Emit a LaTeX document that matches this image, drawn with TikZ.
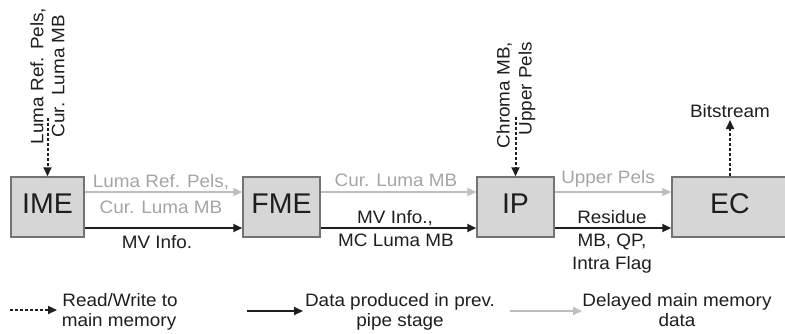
\documentclass[tikz,border=0pt]{standalone}
\usepackage{fontspec}
\setmainfont{Liberation Sans}
\newfontfamily\lblfont{Liberation Sans}[FakeStretch=1.05]
\usetikzlibrary{arrows.meta}
\definecolor{boxfill}{HTML}{D6D6D6}
\definecolor{boxline}{HTML}{737373}
\definecolor{delayline}{HTML}{BEBEBE}
\definecolor{delaytext}{HTML}{A5A5A5}
\definecolor{ink}{HTML}{1E1E1E}

\begin{document}
\begin{tikzpicture}[x=1pt,y=-1pt,
  stage/.style={draw=boxline, fill=boxfill, line width=1.5pt, minimum height=60pt,
    inner sep=0pt, font=\fontsize{28.5}{30}\selectfont, text=ink, text depth=6pt},
  lbl/.style={font=\lblfont\fontsize{18}{21}\selectfont, text=ink, inner sep=0pt, anchor=base},
  glbl/.style={lbl, text=delaytext},
  vlbl/.style={font=\lblfont\fontsize{18}{21}\selectfont, text=ink, inner sep=0pt, rotate=90},
  tip/.style={-{Triangle[length=9pt,width=8pt]}},
  produced/.style={tip, draw=ink, line width=2pt},
  delayed/.style={tip, draw=delayline, line width=2pt},
  memory/.style={tip, draw=ink, line width=2pt, dash pattern=on 3pt off 2pt},
]
\useasboundingbox (0,0) rectangle (785,333);

% pipeline stages
\node[stage, minimum width=73pt]  (IME) at (47.5,207) {IME};
\node[stage, minimum width=77pt]  (FME) at (281.5,207) {FME};
\node[stage, minimum width=77pt]  (IP)  at (515.5,207) {IP};
\node[stage, minimum width=116pt] (EC)  at (730,207) {EC};

% main memory accesses
\node[vlbl, align=center] (imemem) at (47.5,76) {Luma Ref. Pels,\\Cur. Luma MB};
\coordinate (imesrc) at (47.5,118);
\draw[memory] (imesrc) -- (IME.north);

\node[vlbl, align=right, font=\lblfont\fontsize{18}{22}\selectfont] (ipmem) at (516,95) {Chroma MB,\\Upper Pels};
\coordinate (ipsrc) at (515.5,117);
\draw[memory] (ipsrc) -- (IP.north);

\coordinate (bitsend) at (730,120);
\draw[memory] (EC.north) -- (bitsend);
\node[lbl] (bits) at (730,117) {Bitstream};

% IME -> FME
\draw[delayed]  ([yshift=15pt]IME.east) -- ([yshift=15pt]FME.west);
\draw[produced] ([yshift=-21pt]IME.east) -- ([yshift=-21pt]FME.west);
\node[glbl] (a1) at (161,187) {Luma Ref. Pels,};
\node[glbl] (a2) at (161,213) {Cur. Luma MB};
\node[lbl]  (a3) at (157,248) {MV Info.};

% FME -> IP
\draw[delayed]  ([yshift=15pt]FME.east) -- ([yshift=15pt]IP.west);
\draw[produced] ([yshift=-21pt]FME.east) -- ([yshift=-21pt]IP.west);
\node[glbl] (b1) at (396,186) {Cur. Luma MB};
\node[lbl]  (b2) at (395,223) {MV Info.,};
\node[lbl]  (b3) at (396,246) {MC Luma MB};

% IP -> EC
\draw[delayed]  ([yshift=15pt]IP.east) -- ([yshift=15pt]EC.west);
\draw[produced] ([yshift=-21pt]IP.east) -- ([yshift=-21pt]EC.west);
\node[glbl] (c1) at (608,183) {Upper Pels};
\node[lbl]  (c2) at (612,223) {Residue};
\node[lbl]  (c3) at (612,246) {MB, QP,};
\node[lbl]  (c4) at (612,269) {Intra Flag};

% legend
\coordinate (k1s) at (10,310);
\coordinate (k1e) at (57,310);
\draw[memory] (k1s) -- (k1e);
\node[lbl] (k1a) at (120,306) {Read/Write to};
\node[lbl] (k1b) at (119,326) {main memory};

\coordinate (k2s) at (247,311);
\coordinate (k2e) at (303,311);
\draw[produced] (k2s) -- (k2e);
\node[lbl] (k2a) at (400,306) {Data produced in prev.};
\node[lbl] (k2b) at (400,326) {pipe stage};

\coordinate (k3s) at (510,311);
\coordinate (k3e) at (582,311);
\draw[delayed] (k3s) -- (k3e);
\node[lbl] (k3a) at (677,306) {Delayed main memory};
\node[lbl] (k3b) at (677,326) {data};
\end{tikzpicture}
\end{document}
